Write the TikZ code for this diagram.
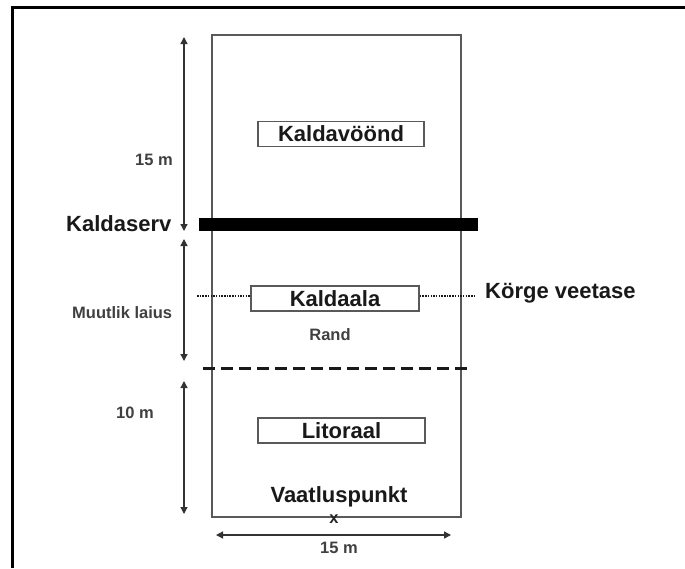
\documentclass[tikz,border=0pt]{standalone}
\usepackage{fontspec}
\setmainfont{Liberation Sans}
\usetikzlibrary{arrows.meta}
\begin{document}
\begin{tikzpicture}[x=1pt,y=-1pt,
  big/.style={font=\bfseries\fontsize{22}{24}\selectfont, text=black!90, inner sep=0pt},
  small/.style={font=\bfseries\fontsize{16.5}{19}\selectfont, text=black!75, inner sep=0pt},
  label box/.style={draw=black!65, line width=1.4pt, minimum width=#1, minimum height=25pt, inner sep=0pt},
  dim/.style={draw=black!80, line width=1.3pt, {Triangle[width=7pt,length=7pt]}-{Triangle[width=7pt,length=7pt]}},
  dotline/.style={draw=black!90, line width=2.6pt, dash pattern=on 1.5pt off 1.2pt}
]
\useasboundingbox (0,0) rectangle (685,568);
\fill[white] (0,0) rectangle (685,568);
% outer frame (top and left)
\draw[line width=3pt, black] (12,568) -- (12,7) -- (685,7);
% main rectangle
\draw[draw=black!65, line width=1.4pt] (212,35) rectangle (461,517);
% thick bank edge
\fill[black] (199,218) rectangle (478,231);
% dashed line
\draw[black!90, line width=3pt, dash pattern=on 12pt off 6pt] (203,368) -- (472,368);
% boxes
\node[label box=166pt, big] (kv) at (341,134) {Kaldavöönd};
\node[label box=168pt, big] (ka) at (335,298.5) {Kaldaala};
\node[label box=167pt, big] (li) at (341.5,430.5) {Litoraal};
% dotted lines
\coordinate (dl) at (197,296);
\coordinate (dr) at (475,296);
\draw[dotline] (dl) -- (ka.west |- dl);
\draw[dotline] (ka.east |- dr) -- (dr);
% texts
\node[big, anchor=west] (kaldaserv) at (66,224) {Kaldaserv};
\node[big, anchor=west] (korge) at (485,293) {Körge veetase};
\node[small] (rand) at (330,335) {Rand};
\node[small] (m15a) at (154,160) {15 m};
\node[small, anchor=west] (muut) at (72,313) {Muutlik laius};
\node[small] (m10) at (135,413) {10 m};
\node[big] (vaat) at (339,497) {Vaatluspunkt};
\node[small, text=black!85] (x) at (334,519) {x};
\node[small] (m15b) at (339,548) {15 m};
% dimension arrows
\coordinate (a1) at (184,37);
\coordinate (a2) at (184,231);
\coordinate (b1) at (184,239);
\coordinate (b2) at (184,361);
\coordinate (c1) at (184,381);
\coordinate (c2) at (184,514);
\coordinate (h1) at (216,535);
\coordinate (h2) at (451,535);
\draw[dim] (a1) -- (a2);
\draw[dim] (b1) -- (b2);
\draw[dim] (c1) -- (c2);
\draw[dim] (h1) -- (h2);
\end{tikzpicture}
\end{document}
